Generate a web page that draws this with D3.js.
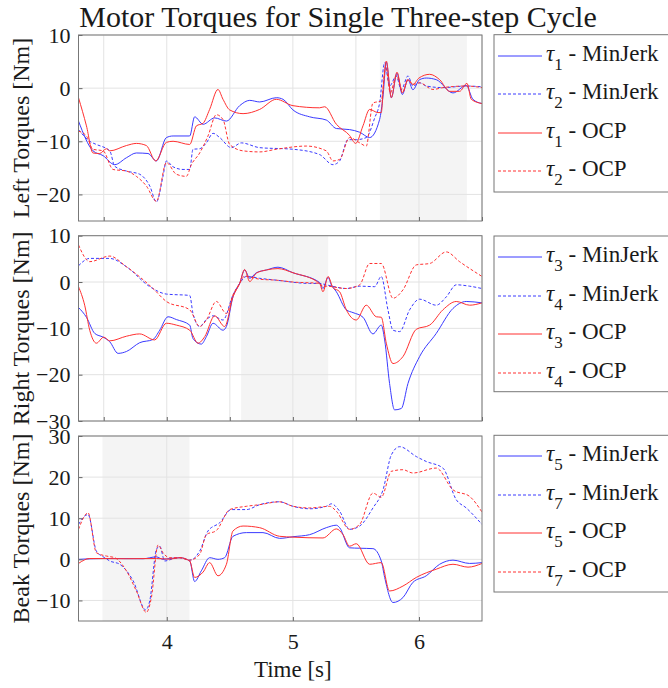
<!DOCTYPE html>
<html><head><meta charset="utf-8">
<script src="https://cdn.jsdelivr.net/npm/d3@7"></script>
<style>
body{margin:0;background:#fff}
svg{display:block}
svg text{font-family:"Liberation Serif","Times New Roman",serif !important;fill:#1a1a1a}
</style>
</head><body>
<svg id="chart" width="668" height="688"></svg>
<script>
// ---------- data ----------
const timeDomain = [3.3, 6.5];
const xTickLabels = [4, 5, 6];
const title = "Motor Torques for Single Three-step Cycle";
const xLabel = "Time [s]";
const yLabels = ["Left Torques [Nm]", "Right Torques [Nm]", "Beak Torques [Nm]"];
const yDomains = [[-25, 10], [-30, 10], [-15, 30]];
const yTicks = [[-20, -10, 0, 10], [-30, -20, -10, 0, 10], [-10, 0, 10, 20, 30]];
const shadeRanges = [[5.69, 6.38], [4.59, 5.28], [3.49, 4.18]];
const legendSubs = [["1", "2", "1", "2"], ["3", "4", "3", "4"], ["5", "7", "5", "7"]];
const legendMethods = ["MinJerk", "MinJerk", "OCP", "OCP"];

// Left torques
const tau1MinJerk = [[3.30,-6.2],[3.415,-11.8],[3.495,-12.7],[3.587,-14.4],[3.68,-13.1],[3.759,-12.2],[3.851,-12.3],[3.918,-13.7],[3.997,-9.3],[4.05,-9.0],[4.182,-9.0],[4.221,-5.4],[4.288,-6.8],[4.38,-5.6],[4.473,-6.2],[4.578,-3.3],[4.658,-2.3],[4.737,-2.6],[4.869,-1.8],[4.922,-2.1],[5.001,-4.1],[5.133,-5.4],[5.265,-6.0],[5.345,-7.6],[5.45,-7.8],[5.53,-8.3],[5.609,-9.3],[5.688,-5.9],[5.715,-1.5],[5.741,4.9],[5.781,-1.8],[5.826,2.8],[5.868,-1.2],[5.913,1.6],[5.952,-0.3],[6.005,1.6],[6.058,1.9],[6.137,1.6],[6.27,-0.9],[6.375,0.5],[6.428,-2.1],[6.5,-2.9]];
const tau2MinJerk = [[3.30,-7.8],[3.389,-10.0],[3.442,-10.6],[3.548,-11.8],[3.587,-14.7],[3.68,-15.6],[3.785,-16.2],[3.865,-18.4],[3.918,-21.4],[3.97,-16.6],[3.997,-13.7],[4.05,-14.8],[4.129,-15.3],[4.182,-15.3],[4.208,-11.5],[4.261,-11.4],[4.314,-10.3],[4.367,-8.5],[4.42,-9.3],[4.512,-11.2],[4.591,-10.3],[4.737,-11.2],[5.001,-11.5],[5.212,-12.5],[5.318,-14.4],[5.371,-13.7],[5.437,-9.7],[5.503,-9.7],[5.582,-9.3],[5.649,-5.6],[5.688,-2.8],[5.728,4.8],[5.767,0.4],[5.82,2.3],[5.86,-0.3],[5.913,2.3],[5.952,0.4],[6.005,1.0],[6.058,0.4],[6.19,0.1],[6.375,0.4],[6.5,0.25]];
const tau1OCP = [[3.30,-1.8],[3.363,-7.1],[3.415,-12.2],[3.468,-12.3],[3.521,-11.4],[3.548,-11.8],[3.68,-10.8],[3.759,-10.4],[3.838,-10.8],[3.912,-13.7],[3.997,-10.2],[4.05,-10.0],[4.182,-10.6],[4.235,-7.1],[4.288,-6.6],[4.34,-4.0],[4.406,-0.25],[4.446,-2.1],[4.499,-4.1],[4.605,-4.8],[4.737,-4.0],[4.869,-2.1],[5.001,-3.3],[5.212,-3.7],[5.252,-3.5],[5.345,-6.8],[5.45,-8.9],[5.498,-10.4],[5.556,-7.1],[5.609,-4.0],[5.675,-4.6],[5.701,-4.6],[5.72,1.0],[5.741,5.1],[5.781,-1.8],[5.826,3.0],[5.868,-0.9],[5.913,1.6],[5.952,0.7],[6.0,1.9],[6.085,2.6],[6.164,1.6],[6.243,-0.6],[6.322,-0.6],[6.381,0.9],[6.415,-2.1],[6.5,-2.9]];
const tau2OCP = [[3.30,-8.1],[3.363,-9.0],[3.415,-11.5],[3.495,-11.8],[3.574,-15.3],[3.68,-15.6],[3.759,-16.6],[3.838,-18.4],[3.918,-21.3],[3.997,-14.0],[4.076,-16.2],[4.155,-16.6],[4.195,-14.4],[4.261,-12.2],[4.327,-9.0],[4.393,-5.0],[4.446,-5.9],[4.499,-10.6],[4.605,-11.8],[4.737,-12.0],[4.869,-11.5],[5.107,-10.9],[5.265,-11.8],[5.318,-13.7],[5.371,-13.4],[5.45,-9.3],[5.53,-10.3],[5.582,-10.9],[5.635,-2.8],[5.701,-2.4],[5.736,4.1],[5.773,-0.9],[5.82,2.3],[5.873,-0.6],[5.913,1.6],[5.952,0.7],[6.005,1.0],[6.111,-0.25],[6.19,0.1],[6.375,0.4],[6.5,0.1]];

// Right torques
const tau3MinJerk = [[3.30,-5.5],[3.363,-7.6],[3.429,-11.1],[3.495,-11.9],[3.548,-12.9],[3.614,-15.4],[3.68,-15.0],[3.785,-13.1],[3.891,-12.4],[3.944,-10.4],[4.01,-7.5],[4.076,-8.1],[4.182,-9.3],[4.208,-12.2],[4.274,-13.4],[4.314,-11.8],[4.367,-8.9],[4.446,-10.4],[4.473,-9.6],[4.525,-3.2],[4.578,-0.3],[4.618,2.6],[4.658,0.8],[4.71,2.0],[4.79,2.6],[4.882,3.2],[5.001,2.0],[5.212,-0.1],[5.239,-1.4],[5.279,1.0],[5.305,-0.6],[5.345,-2.1],[5.424,-6.0],[5.477,-6.6],[5.556,-7.6],[5.635,-11.2],[5.701,-9.3],[5.728,-12.5],[5.767,-21.9],[5.807,-27.6],[5.86,-27.3],[5.913,-21.9],[6.005,-16.1],[6.137,-11.1],[6.27,-5.7],[6.375,-4.2],[6.5,-4.5]];
const tau4MinJerk = [[3.30,3.5],[3.389,5.1],[3.548,5.1],[3.68,3.3],[3.865,-1.0],[3.997,-2.6],[4.182,-2.9],[4.208,-6.8],[4.261,-9.6],[4.314,-8.1],[4.367,-7.3],[4.446,-8.2],[4.525,-2.8],[4.578,-0.3],[4.631,1.2],[4.737,0.8],[4.869,0.4],[5.133,-0.3],[5.212,-0.3],[5.265,-0.6],[5.424,-1.4],[5.53,-0.9],[5.649,-1.0],[5.701,1.2],[5.754,-6.0],[5.794,-10.4],[5.847,-10.7],[5.926,-6.0],[6.005,-3.7],[6.137,-5.0],[6.217,-3.2],[6.296,-0.6],[6.402,-0.9],[6.5,-1.4]];
const tau3OCP = [[3.30,-1.0],[3.349,-5.0],[3.389,-10.4],[3.442,-13.2],[3.5,-11.9],[3.548,-12.7],[3.68,-11.7],[3.785,-11.2],[3.904,-12.5],[3.997,-8.9],[4.076,-9.3],[4.182,-10.4],[4.248,-13.2],[4.301,-11.8],[4.38,-7.3],[4.459,-9.6],[4.525,-3.2],[4.578,-0.3],[4.618,2.7],[4.658,0.1],[4.71,1.9],[4.79,2.6],[4.882,2.9],[5.001,2.0],[5.212,-0.3],[5.239,-2.1],[5.279,1.2],[5.318,-1.2],[5.371,-2.1],[5.424,-6.0],[5.503,-8.2],[5.582,-5.0],[5.662,-7.5],[5.701,-7.6],[5.741,-13.2],[5.794,-17.6],[5.873,-16.1],[5.979,-10.2],[6.085,-9.3],[6.19,-6.0],[6.296,-4.2],[6.402,-5.0],[6.5,-4.5]];
const tau4OCP = [[3.30,8.0],[3.389,4.4],[3.548,5.6],[3.68,3.3],[3.891,-1.4],[3.997,-4.2],[4.182,-6.0],[4.261,-9.6],[4.314,-8.2],[4.393,-4.2],[4.473,-6.8],[4.525,-2.8],[4.578,-0.3],[4.618,1.3],[4.737,0.6],[4.869,0.4],[5.001,0],[5.212,-0.3],[5.239,-1.0],[5.265,-0.9],[5.424,-1.4],[5.53,-0.6],[5.609,4.0],[5.701,4.0],[5.794,-3.5],[5.873,-1.7],[5.979,3.7],[6.085,4.0],[6.217,6.5],[6.322,4.4],[6.5,1.2]];

// Beak torques
const tau5MinJerk = [[3.30,0],[3.495,0.2],[3.812,0.15],[3.918,0.6],[3.97,0],[4.023,0.2],[4.103,0.4],[4.182,-0.4],[4.221,-5.4],[4.274,-2.8],[4.34,0.4],[4.406,0],[4.459,0.4],[4.525,5.6],[4.631,6.5],[4.763,6.5],[4.895,5.1],[5.001,5.5],[5.133,6.0],[5.265,7.7],[5.345,8.3],[5.371,7.7],[5.45,2.8],[5.53,2.7],[5.635,2.6],[5.701,-0.4],[5.728,-4.4],[5.794,-10.5],[5.873,-9.3],[5.952,-5.6],[6.058,-4.0],[6.164,-1.2],[6.27,-0.2],[6.402,-1.0],[6.5,-0.8]];
const tau7MinJerk = [[3.30,8.5],[3.376,10.9],[3.442,2.0],[3.508,0.4],[3.548,-0.4],[3.627,-1.2],[3.733,-5.2],[3.833,-12.3],[3.865,-10.1],[3.918,2.4],[3.944,3.2],[3.984,-0.4],[4.036,0],[4.103,0.4],[4.182,-0.2],[4.261,2.0],[4.327,6.9],[4.42,8.9],[4.512,12.1],[4.631,12.1],[4.737,13.3],[4.895,14.0],[5.001,12.9],[5.133,12.3],[5.265,12.9],[5.305,13.5],[5.371,11.7],[5.45,7.3],[5.53,8.1],[5.635,12.5],[5.715,16.9],[5.781,25.4],[5.847,27.4],[5.979,25.0],[6.058,23.8],[6.19,22.2],[6.296,14.5],[6.375,12.5],[6.5,8.5]];
const tau5OCP = [[3.30,-1.0],[3.389,0.2],[3.68,0.15],[3.918,0.2],[4.023,0.05],[4.103,0.4],[4.182,-0.4],[4.221,-4.4],[4.288,-3.1],[4.34,-0.8],[4.406,-4.0],[4.473,-1.2],[4.525,6.9],[4.605,8.1],[4.737,7.7],[4.895,5.6],[5.001,5.4],[5.239,5.2],[5.345,7.4],[5.398,6.0],[5.45,3.2],[5.503,3.8],[5.609,-1.2],[5.701,-0.8],[5.767,-7.7],[5.873,-6.5],[5.979,-4.4],[6.137,-2.4],[6.27,-1.2],[6.389,-1.9],[6.5,-1.0]];
const tau7OCP = [[3.30,7.3],[3.376,11.3],[3.442,1.6],[3.521,0.8],[3.587,0.4],[3.68,-2.8],[3.759,-7.7],[3.838,-12.9],[3.878,-9.3],[3.931,3.5],[3.97,1.6],[4.023,0.4],[4.103,0.4],[4.182,-0.2],[4.261,1.2],[4.314,6.0],[4.393,7.0],[4.499,12.1],[4.631,12.9],[4.737,13.3],[4.895,14.0],[5.001,12.9],[5.133,12.5],[5.292,12.9],[5.345,11.7],[5.45,7.3],[5.53,8.5],[5.635,16.1],[5.701,15.1],[5.781,21.4],[5.873,21.8],[5.952,21.0],[6.137,22.2],[6.27,16.9],[6.402,15.3],[6.5,11.5]];

const panelSeries = [
  [tau1MinJerk, tau2MinJerk, tau1OCP, tau2OCP],
  [tau3MinJerk, tau4MinJerk, tau3OCP, tau4OCP],
  [tau5MinJerk, tau7MinJerk, tau5OCP, tau7OCP]
];

// ---------- layout / style ----------
const FONT = '"Liberation Serif","Times New Roman",serif';
const BLUE = "#3a3aff", RED = "#ff3030";
const seriesStyle = [
  {color: BLUE, dash: null},
  {color: BLUE, dash: "3,2"},
  {color: RED, dash: null},
  {color: RED, dash: "3,2"}
];
const plotX0 = 78.5, plotX1 = 482;
const panelBox = [[35, 221], [235.7, 421], [436, 621]];
const legendBox = [[34.7, 192], [236, 391.7], [435.3, 592]];
const xGridSteps = [0.5, 0.5, 1];

const svg = d3.select("#chart").style("font-family", FONT);
const x = d3.scaleLinear().domain(timeDomain).range([plotX0, plotX1]);

svg.append("text").attr("x", 338).attr("y", 27).attr("text-anchor", "middle")
  .style("font-size", "30px").style("font-family", FONT).text(title);

panelSeries.forEach((series, pi) => {
  const [top, bot] = panelBox[pi];
  const y = d3.scaleLinear().domain(yDomains[pi]).range([bot, top]);
  const g = svg.append("g");
  const clipId = "clip" + pi;
  svg.append("clipPath").attr("id", clipId).append("rect")
    .attr("x", plotX0).attr("y", top).attr("width", plotX1 - plotX0).attr("height", bot - top);

  // shaded interval
  g.append("rect").attr("x", x(shadeRanges[pi][0])).attr("y", top)
    .attr("width", x(shadeRanges[pi][1]) - x(shadeRanges[pi][0])).attr("height", bot - top)
    .attr("fill", "#f4f4f4");

  // grid
  const step = xGridSteps[pi];
  const xs = d3.range(Math.ceil(timeDomain[0] / step) * step, timeDomain[1] + 1e-6, step)
    .map(v => +v.toFixed(2));
  g.append("g").selectAll("line").data(xs).join("line")
    .attr("x1", d => x(d)).attr("x2", d => x(d)).attr("y1", top).attr("y2", bot)
    .attr("stroke", "#e3e3e3").attr("stroke-width", 1);
  g.append("g").selectAll("line").data(yTicks[pi]).join("line")
    .attr("x1", plotX0).attr("x2", plotX1).attr("y1", d => y(d)).attr("y2", d => y(d))
    .attr("stroke", "#e3e3e3").attr("stroke-width", 1);

  // lines
  const line = d3.line().x(d => x(d[0])).y(d => y(d[1])).curve(d3.curveMonotoneX);
  const lg = g.append("g").attr("clip-path", `url(#${clipId})`);
  series.forEach((s, si) => {
    lg.append("path").datum(s).attr("d", line).attr("fill", "none")
      .attr("stroke", seriesStyle[si].color).attr("stroke-width", 1)
      .attr("stroke-dasharray", seriesStyle[si].dash);
  });

  // axes
  const yAxis = d3.axisLeft(y).tickValues(yTicks[pi]).tickSize(-4).tickPadding(8).tickFormat(d3.format("d"));
  const ya = g.append("g").attr("transform", `translate(${plotX0},0)`).call(yAxis)
    .attr("font-family", FONT);
  ya.select(".domain").remove();
  ya.selectAll("line").attr("stroke", "#666");
  ya.selectAll("text").style("font-size", "22px").style("font-family", FONT).attr("fill", "#1a1a1a");

  const xAxis = d3.axisBottom(x).tickValues(xs).tickSize(-4)
    .tickFormat(d => (pi === 2 && xTickLabels.includes(d)) ? String(d) : "").tickPadding(12);
  const xa = g.append("g").attr("transform", `translate(0,${bot})`).call(xAxis)
    .attr("font-family", FONT);
  xa.select(".domain").remove();
  xa.selectAll("line").attr("stroke", "#666");
  xa.selectAll("text").style("font-size", "22px").style("font-family", FONT).attr("fill", "#1a1a1a");

  // box
  g.append("rect").attr("x", plotX0).attr("y", top).attr("width", plotX1 - plotX0)
    .attr("height", bot - top).attr("fill", "none").attr("stroke", "#777").attr("stroke-width", 1);

  // y label
  svg.append("text").attr("transform", `translate(29,${(top + bot) / 2}) rotate(-90)`)
    .attr("text-anchor", "middle").style("font-size", "24px").style("font-family", FONT)
    .text(yLabels[pi]);

  // legend
  const [lt, lb] = legendBox[pi];
  const leg = svg.append("g");
  leg.append("rect").attr("x", 494).attr("y", lt).attr("width", 200).attr("height", lb - lt)
    .attr("fill", "#fff").attr("stroke", "#777").attr("stroke-width", 1);
  legendSubs[pi].forEach((sub, i) => {
    const ry = Math.round(lt + 21 + i * 38.5);
    leg.append("line").attr("x1", 498).attr("x2", 542).attr("y1", ry).attr("y2", ry)
      .attr("stroke", seriesStyle[i].color).attr("stroke-width", 1)
      .attr("stroke-dasharray", seriesStyle[i].dash);
    const t = leg.append("text").attr("x", 546).attr("y", ry + 5)
      .style("font-size", "23px").style("font-family", FONT);
    t.append("tspan").style("font-style", "italic").text("τ");
    t.append("tspan").attr("dy", 9).style("font-size", "17px").text(sub);
    t.append("tspan").attr("dy", -9).text(" - " + legendMethods[i]);
  });
});

svg.append("text").attr("x", x(5)).attr("y", 677).attr("text-anchor", "middle")
  .style("font-size", "23px").style("font-family", FONT).text(xLabel);
</script>
</body></html>
